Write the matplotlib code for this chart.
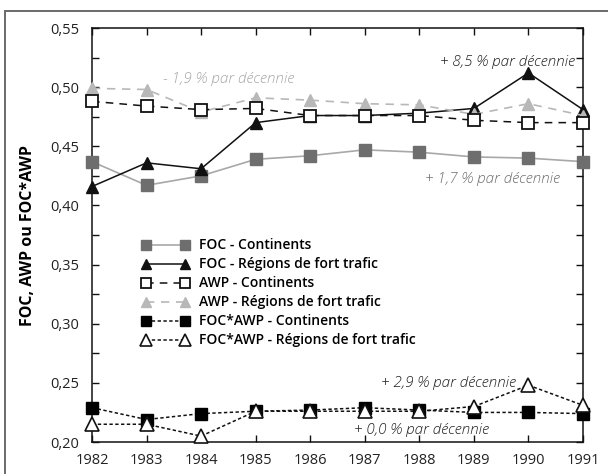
import matplotlib

matplotlib.use("Agg")
import matplotlib.pyplot as plt
from matplotlib.patches import Rectangle
from matplotlib.ticker import FuncFormatter, MultipleLocator


years = [1982, 1983, 1984, 1985, 1986, 1987, 1988, 1989, 1990, 1991]

foc_continents = [0.437, 0.417, 0.425, 0.439, 0.442, 0.447, 0.445, 0.441, 0.440, 0.437]
foc_trafic = [0.416, 0.436, 0.431, 0.470, 0.476, 0.476, 0.478, 0.482, 0.512, 0.481]
awp_continents = [0.488, 0.484, 0.481, 0.482, 0.476, 0.476, 0.476, 0.472, 0.470, 0.470]
awp_trafic = [0.499, 0.498, 0.479, 0.491, 0.489, 0.486, 0.485, 0.477, 0.486, 0.476]
focawp_continents = [0.229, 0.219, 0.224, 0.226, 0.227, 0.229, 0.227, 0.225, 0.225, 0.224]
focawp_trafic = [0.215, 0.215, 0.205, 0.226, 0.226, 0.226, 0.226, 0.230, 0.248, 0.231]

labels = [
    "FOC - Continents",
    "FOC - Régions de fort trafic",
    "AWP - Continents",
    "AWP - Régions de fort trafic",
    "FOC*AWP - Continents",
    "FOC*AWP - Régions de fort trafic",
]

trend_notes = [
    ("+ 8,5 % par décennie", 1990.85, 0.521, "right", "#222222"),
    ("- 1,9 % par décennie", 1983.3, 0.507, "left", "#a8a8a8"),
    ("+ 1,7 % par décennie", 1988.1, 0.4225, "left", "#707070"),
    ("+ 2,9 % par décennie", 1987.3, 0.250, "left", "#222222"),
    ("+ 0,0 % par décennie", 1986.8, 0.210, "left", "#222222"),
]

plt.rcParams["font.family"] = ["Open Sans", "DejaVu Sans"]
plt.rcParams["font.size"] = 10.5

fig = plt.figure(figsize=(6.08, 4.74), dpi=100)
ax = fig.add_axes([92 / 608, 32 / 474, 491 / 608, 414 / 474])

# outer frame of the figure, cut by the image edges on the right and bottom
fig.patches.append(
    Rectangle((5 / 608, -0.1), 1.2, 0.1 + 463 / 474, transform=fig.transFigure,
              fill=False, edgecolor="#6a6a6a", linewidth=1.4, clip_on=False)
)

ms = 8
dotted = (0, (2.2, 1.6))
dashed = (0, (5, 4))

ax.plot(years, foc_continents, color="#a8a8a8", linewidth=1.2, marker="s",
        markersize=ms, markerfacecolor="#6e6e6e", markeredgecolor="#6e6e6e",
        label=labels[0], clip_on=False, zorder=3)
ax.plot(years, foc_trafic, color="#111111", linewidth=1.1, marker="^",
        markersize=ms + 1, markerfacecolor="#111111", markeredgecolor="#111111",
        label=labels[1], clip_on=False, zorder=3)
ax.plot(years, awp_trafic, color="#b8b8b8", linewidth=1.2, linestyle=dashed, marker="^",
        markersize=ms + 1, markerfacecolor="#b8b8b8", markeredgecolor="#b8b8b8",
        label=labels[3], clip_on=False, zorder=3)
ax.plot(years, awp_continents, color="#111111", linewidth=1.1, linestyle=dashed, marker="s",
        markersize=ms, markerfacecolor="white", markeredgecolor="#111111",
        markeredgewidth=1.3, label=labels[2], clip_on=False, zorder=4)
ax.plot(years, focawp_continents, color="#111111", linewidth=1.1, linestyle=dotted, marker="s",
        markersize=ms, markerfacecolor="#000000", markeredgecolor="#000000",
        label=labels[4], clip_on=False, zorder=4)
ax.plot(years, focawp_trafic, color="#111111", linewidth=1.1, linestyle=dotted, marker="^",
        markersize=ms + 2, markerfacecolor="white", markeredgecolor="#111111",
        markeredgewidth=1.2, label=labels[5], clip_on=False, zorder=5)

for text, x, y, ha, color in trend_notes:
    ax.text(x, y, text, ha=ha, va="center", style="italic", color=color,
            fontsize=11, fontweight="light")

ax.set_xlim(1982, 1991)
ax.set_ylim(0.20, 0.55)
ax.set_xticks(years)
ax.yaxis.set_major_locator(MultipleLocator(0.05))
ax.yaxis.set_minor_locator(MultipleLocator(0.025))
ax.yaxis.set_major_formatter(FuncFormatter(lambda v, p: f"{v:.2f}".replace(".", ",")))
ax.tick_params(axis="both", which="both", direction="in", top=True, right=True,
               length=5, width=1, colors="#111111", labelcolor="#222222")
ax.tick_params(axis="y", pad=9)
ax.tick_params(axis="x", pad=8)
for spine in ax.spines.values():
    spine.set_linewidth(1.1)
    spine.set_color("#111111")

ax.set_ylabel("FOC, AWP ou FOC*AWP", fontweight="bold", fontsize=11.5, labelpad=10)

handles, leg_labels = ax.get_legend_handles_labels()
order = [leg_labels.index(lab) for lab in labels]
leg = ax.legend([handles[i] for i in order], [leg_labels[i] for i in order],
                loc="upper left", bbox_to_anchor=(0.09, 0.505), frameon=False,
                numpoints=2, markerscale=0.85, handlelength=3.4, handletextpad=0.7,
                labelspacing=0.36, borderaxespad=0,
                prop={"weight": "semibold", "size": 10})

fig.savefig("out.png", dpi=100)
